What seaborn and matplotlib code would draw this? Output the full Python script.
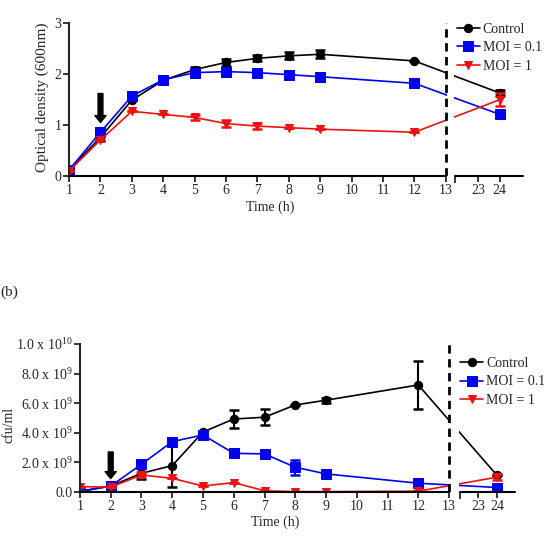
import seaborn as sns
from matplotlib import pyplot as plt
import numpy as np

# sampling times (h)
times = [1, 2, 3, 4, 5, 6, 7, 8, 9, 12, 24]

# (a) optical density at 600 nm
od_control = [0.12, 0.76, 1.49, 1.88, 2.09, 2.23, 2.31, 2.36, 2.39, 2.26, 1.63]
od_control_err = [0, 0.08, 0, 0, 0.05, 0.06, 0.06, 0.07, 0.08, 0, 0.05]
od_moi01 = [0.12, 0.86, 1.57, 1.89, 2.03, 2.05, 2.03, 1.99, 1.95, 1.82, 1.21]
od_moi01_err = [0, 0, 0, 0, 0, 0, 0, 0, 0, 0, 0]
od_moi1 = [0.10, 0.71, 1.27, 1.21, 1.15, 1.03, 0.98, 0.95, 0.92, 0.86, 1.50]
od_moi1_err = [0, 0, 0, 0, 0.05, 0.07, 0.06, 0, 0, 0, 0.13]

# (b) viable counts (cfu/ml)
cfu_control = [0.05e9, 0.40e9, 1.26e9, 1.78e9, 4.05e9, 4.93e9, 5.05e9, 5.88e9, 6.20e9, 7.23e9, 1.12e9]
cfu_control_err = [0, 0, 0.4e9, 1.45e9, 0, 0.6e9, 0.55e9, 0, 0.18e9, 1.6e9, 0]
cfu_moi01 = [0.02e9, 0.40e9, 1.87e9, 3.40e9, 3.85e9, 2.61e9, 2.57e9, 1.67e9, 1.22e9, 0.59e9, 0.30e9]
cfu_moi01_err = [0, 0, 0, 0, 0.3e9, 0, 0, 0.5e9, 0, 0, 0]
cfu_moi1 = [0.36e9, 0.32e9, 1.15e9, 0.92e9, 0.40e9, 0.63e9, 0.08e9, 0.02e9, 0.02e9, 0.05e9, 1.00e9]
cfu_moi1_err = [0, 0, 0.15e9, 0, 0, 0, 0, 0, 0, 0, 0.2e9]

labels = ["Control", "MOI = 0.1", "MOI = 1"]
colors = ["black", "#0000ee", "#ee1111"]
markers = ["o", "s", "v"]

sns.set_style("white")
plt.rcParams['font.family'] = ['Liberation Serif', 'DejaVu Serif']
plt.rcParams['mathtext.fontset'] = 'custom'
plt.rcParams['mathtext.rm'] = 'Liberation Serif'
plt.rcParams['mathtext.it'] = 'Liberation Serif'
plt.rcParams['font.size'] = 10


def xpos(t, p23, p24):
    # broken time axis: 1..13 linear, then 23 and 24 squeezed after the break
    out = []
    for v in t:
        if v <= 13:
            out.append(v)
        elif v == 23:
            out.append(p23)
        else:
            out.append(p24)
    return out


def panel(ax, series, errs, p23, p24, xmax, seg_start, ymax, yticks, yticklabels, ylabel,
          legend_anchor, ylabel_xy, ylabel_size, xlabel_xy):
    x = xpos(times, p23, p24)
    for vals, err, lab, col, mk in zip(series, errs, labels, colors, markers):
        sns.lineplot(x=x, y=vals, ax=ax, color=col, marker=mk, markersize=6.5 if mk == "s" else 6,
                     markeredgecolor=col, linewidth=1.2, label=lab, zorder=2)
        ax.errorbar(x, vals, yerr=err, fmt="none", ecolor=col, elinewidth=1.5,
                    capsize=3.5, capthick=1.8, zorder=2)
    # gap of the broken axis
    ax.axvspan(13.03, seg_start - 0.02, color="white", zorder=2.5, lw=0)
    ax.axvline(13, color="black", ls=(0, (3, 2)), lw=2, zorder=3)
    ax.set_xlim(1, xmax)
    ax.set_ylim(0, ymax)
    ax.set_yticks(yticks)
    ax.set_yticklabels(yticklabels)
    ax.set_xticks(list(range(1, 14)) + [p23, p24])
    ax.set_xticklabels([str(i) for i in range(1, 14)] + ["23", "24"])
    ax.set_xticks([seg_start], minor=True)
    ax.tick_params(axis="both", which="both", direction="out", length=4, width=1.3,
                   bottom=True, left=True, pad=1.5)
    ax.tick_params(axis="x", which="minor", length=5)
    for s in ["top", "right", "bottom"]:
        ax.spines[s].set_visible(False)
    ax.spines["left"].set_linewidth(1.5)
    tr = ax.get_xaxis_transform()
    ax.plot([1, 13], [0, 0], color="black", lw=1.5, transform=tr, clip_on=False, zorder=4)
    ax.plot([seg_start, xmax], [0, 0], color="black", lw=1.5, transform=tr, clip_on=False, zorder=4)
    ax.set_xlabel("Time (h)")
    ax.xaxis.set_label_coords(*xlabel_xy)
    ax.set_ylabel(ylabel, fontsize=ylabel_size)
    ax.yaxis.set_label_coords(*ylabel_xy)
    ax.legend(loc="upper left", bbox_to_anchor=legend_anchor, frameon=False,
              handlelength=1.65, handletextpad=0.2, labelspacing=0.4, borderaxespad=0,
              borderpad=0, fontsize=10)


fig = plt.figure(figsize=(5.44, 5.40), dpi=100)
ax1 = fig.add_axes([0.127, 0.674, 0.834, 0.283])
ax2 = fig.add_axes([0.147, 0.089, 0.800, 0.274])

panel(ax1, [od_control, od_moi01, od_moi1], [od_control_err, od_moi01_err, od_moi1_err],
      14.02, 14.72, 15.45, 13.29, 3, [0, 1, 2, 3], ["0", "1", "2", "3"],
      "Optical density (600nm)", (0.855, 1.004), (-0.044, 0.515), 11, (0.443, -0.157))
ax1.annotate("", xy=(2, 1.05), xytext=(2, 1.62),
             arrowprops=dict(facecolor="black", edgecolor="black", width=3.5, headwidth=8,
                             headlength=5, shrink=0))

cfu_ticks = [0, 2e9, 4e9, 6e9, 8e9, 1e10]
cfu_ticklabels = ["0.0", r"2.0 x 10$^9$", r"4.0 x 10$^9$", r"6.0 x 10$^9$",
                  r"8.0 x 10$^9$", r"1.0 x 10$^{10}$"]
panel(ax2, [cfu_control, cfu_moi01, cfu_moi1], [cfu_control_err, cfu_moi01_err, cfu_moi1_err],
      13.94, 14.56, 15.15, 13.36, 1e10, cfu_ticks, cfu_ticklabels,
      "cfu/ml", (0.874, 0.913), (-0.149, 0.45), 10, (0.448, -0.162))
ax2.annotate("", xy=(2, 0.9e9), xytext=(2, 2.7e9),
             arrowprops=dict(facecolor="black", edgecolor="black", width=3.5, headwidth=8,
                             headlength=5, shrink=0))

fig.text(0.0, 1 - 292 / 540, "(b)", fontsize=11, va="center", ha="left")

plt.savefig("out.png", dpi=100)
